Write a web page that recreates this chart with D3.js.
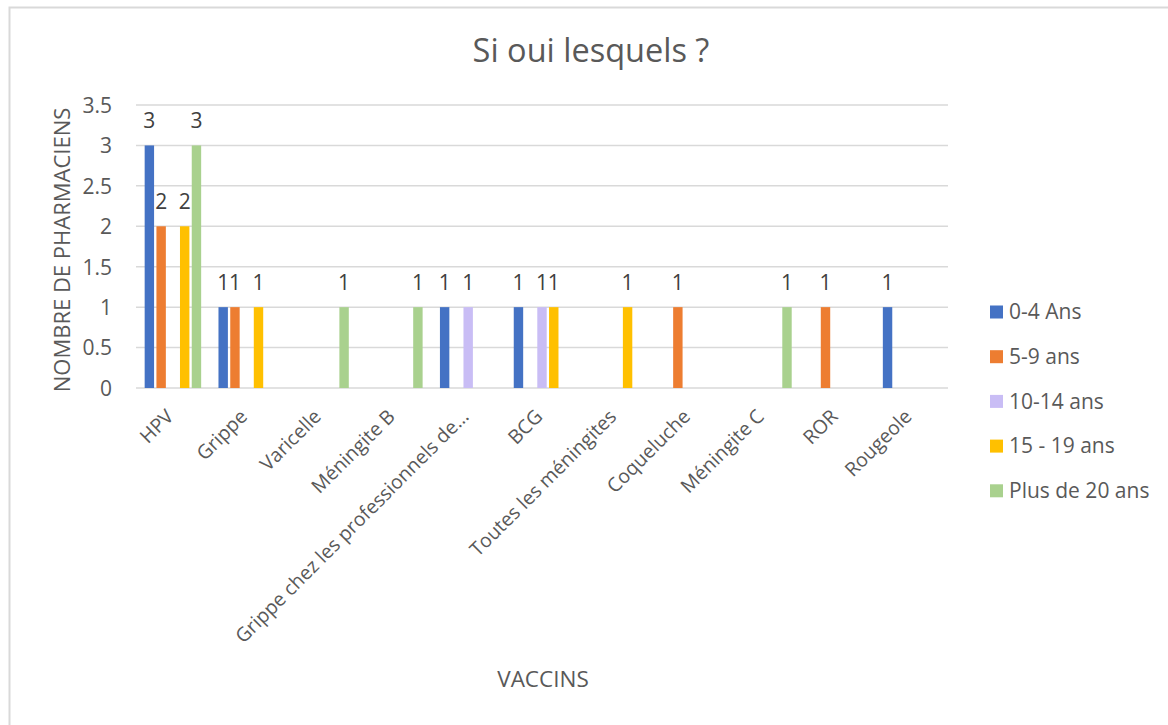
<!DOCTYPE html>
<html lang="fr">
<head>
<meta charset="utf-8">
<script src="https://cdn.jsdelivr.net/npm/d3@7"></script>
<style>
  html, body { margin: 0; padding: 0; background: #fff; }
  svg { display: block; font-family: "Open Sans", "Noto Sans", sans-serif; }
</style>
</head>
<body>
<svg id="chart" width="1168" height="725"></svg>
<script>
// Vaccines mentioned, by age group
const categories = ["HPV", "Grippe", "Varicelle", "Méningite B",
  "Grippe chez les professionnels de…", "BCG", "Toutes les méningites",
  "Coqueluche", "Méningite C", "ROR", "Rougeole"];
const seriesNames = ["0-4 Ans", "5-9 ans", "10-14 ans", "15 - 19 ans", "Plus de 20 ans"];
// null = no answer for that age group
const ages0to4   = [3, 1, null, null, 1, 1, null, null, null, null, 1];
const ages5to9   = [2, 1, null, null, null, null, null, 1, null, 1, null];
const ages10to14 = [null, null, null, null, 1, 1, null, null, null, null, null];
const ages15to19 = [2, 1, null, null, null, 1, 1, null, null, null, null];
const ages20plus = [3, null, 1, 1, null, null, null, null, 1, null, null];
const yTicks = [0, 0.5, 1, 1.5, 2, 2.5, 3, 3.5];
const colors = ["#4472C4", "#ED7D31", "#C9BDF5", "#FFC000", "#A9D18E"];

const seriesValues = [ages0to4, ages5to9, ages10to14, ages15to19, ages20plus];

const svg = d3.select("#chart");
const textColor = "#595959";

// chart frame
svg.append("rect")
  .attr("x", 9.5).attr("y", 7.5)
  .attr("width", 1200).attr("height", 800)
  .attr("fill", "#fff")
  .attr("stroke", "#d9d9d9").attr("stroke-width", 2);

const plot = { left: 136, right: 948, top: 105, bottom: 388 };

const x = d3.scaleBand()
  .domain(categories)
  .range([plot.left, plot.right])
  .paddingInner(0).paddingOuter(0);

const xInner = d3.scaleBand()
  .domain(seriesNames)
  .range([0, 56.5])
  .paddingInner(0.2).paddingOuter(0);

const innerOffset = (x.bandwidth() - 56.5) / 2;

const y = d3.scaleLinear()
  .domain([0, 3.5])
  .range([plot.bottom, plot.top]);

// horizontal gridlines
svg.append("g")
  .selectAll("line")
  .data(yTicks)
  .join("line")
  .attr("x1", plot.left).attr("x2", plot.right)
  .attr("y1", d => y(d)).attr("y2", d => y(d))
  .attr("stroke", "#d9d9d9").attr("stroke-width", 1.5);

// y axis labels
const yAxis = d3.axisLeft(y).tickValues(yTicks).tickSize(0).tickPadding(0)
  .tickFormat(d3.format("~g"));
const yg = svg.append("g")
  .attr("transform", `translate(${plot.left - 24},0)`)
  .call(yAxis);
yg.select(".domain").remove();
yg.selectAll("text")
  .attr("fill", textColor)
  .style("font-size", "21px")
  .style("font-family", "Open Sans, sans-serif")
  .attr("dy", "0.35em");

// bars
const flat = [];
seriesValues.forEach((vals, s) => {
  vals.forEach((v, i) => {
    if (v !== null) flat.push({ cat: categories[i], series: seriesNames[s], s, v });
  });
});

svg.append("g")
  .selectAll("rect")
  .data(flat)
  .join("rect")
  .attr("x", d => x(d.cat) + innerOffset + xInner(d.series))
  .attr("y", d => y(d.v))
  .attr("width", xInner.bandwidth())
  .attr("height", d => y(0) - y(d.v))
  .attr("fill", d => colors[d.s]);

// value labels
svg.append("g")
  .selectAll("text")
  .data(flat)
  .join("text")
  .attr("x", d => x(d.cat) + innerOffset + xInner(d.series) + xInner.bandwidth() / 2)
  .attr("y", d => y(d.v) - 17)
  .attr("text-anchor", "middle")
  .attr("fill", "#404040")
  .style("font-size", "21px")
  .text(d => d.v);

// x axis labels, rotated
const xAxis = d3.axisBottom(x).tickSize(0).tickPadding(0);
const xg = svg.append("g")
  .attr("transform", `translate(0,${plot.bottom})`)
  .call(xAxis);
xg.select(".domain").remove();
xg.selectAll("text")
  .attr("fill", textColor)
  .style("font-size", "19.5px")
  .style("font-family", "Open Sans, sans-serif")
  .attr("text-anchor", "end")
  .attr("transform", "translate(-3,25) rotate(-45)")
  .attr("dy", "0.35em");

// title
svg.append("text")
  .attr("x", 591).attr("y", 62)
  .attr("text-anchor", "middle")
  .attr("fill", textColor)
  .style("font-size", "32.5px")
  .text("Si oui lesquels ?");

// axis titles
svg.append("text")
  .attr("transform", "translate(70,250) rotate(-90)")
  .attr("text-anchor", "middle")
  .attr("fill", textColor)
  .style("font-size", "22px")
  .text("NOMBRE DE PHARMACIENS");

svg.append("text")
  .attr("x", 543).attr("y", 687)
  .attr("text-anchor", "middle")
  .attr("fill", textColor)
  .style("font-size", "22.5px")
  .text("VACCINS");

// legend
const legend = svg.append("g")
  .selectAll("g")
  .data(seriesNames)
  .join("g")
  .attr("transform", (d, i) => `translate(990,${312 + i * 44.7})`);
legend.append("rect")
  .attr("x", 0).attr("y", -6.5)
  .attr("width", 13).attr("height", 13)
  .attr("fill", (d, i) => colors[i]);
legend.append("text")
  .attr("x", 19).attr("y", 0)
  .attr("dy", "0.35em")
  .attr("fill", textColor)
  .style("font-size", "21px")
  .text(d => d);
</script>
</body>
</html>
